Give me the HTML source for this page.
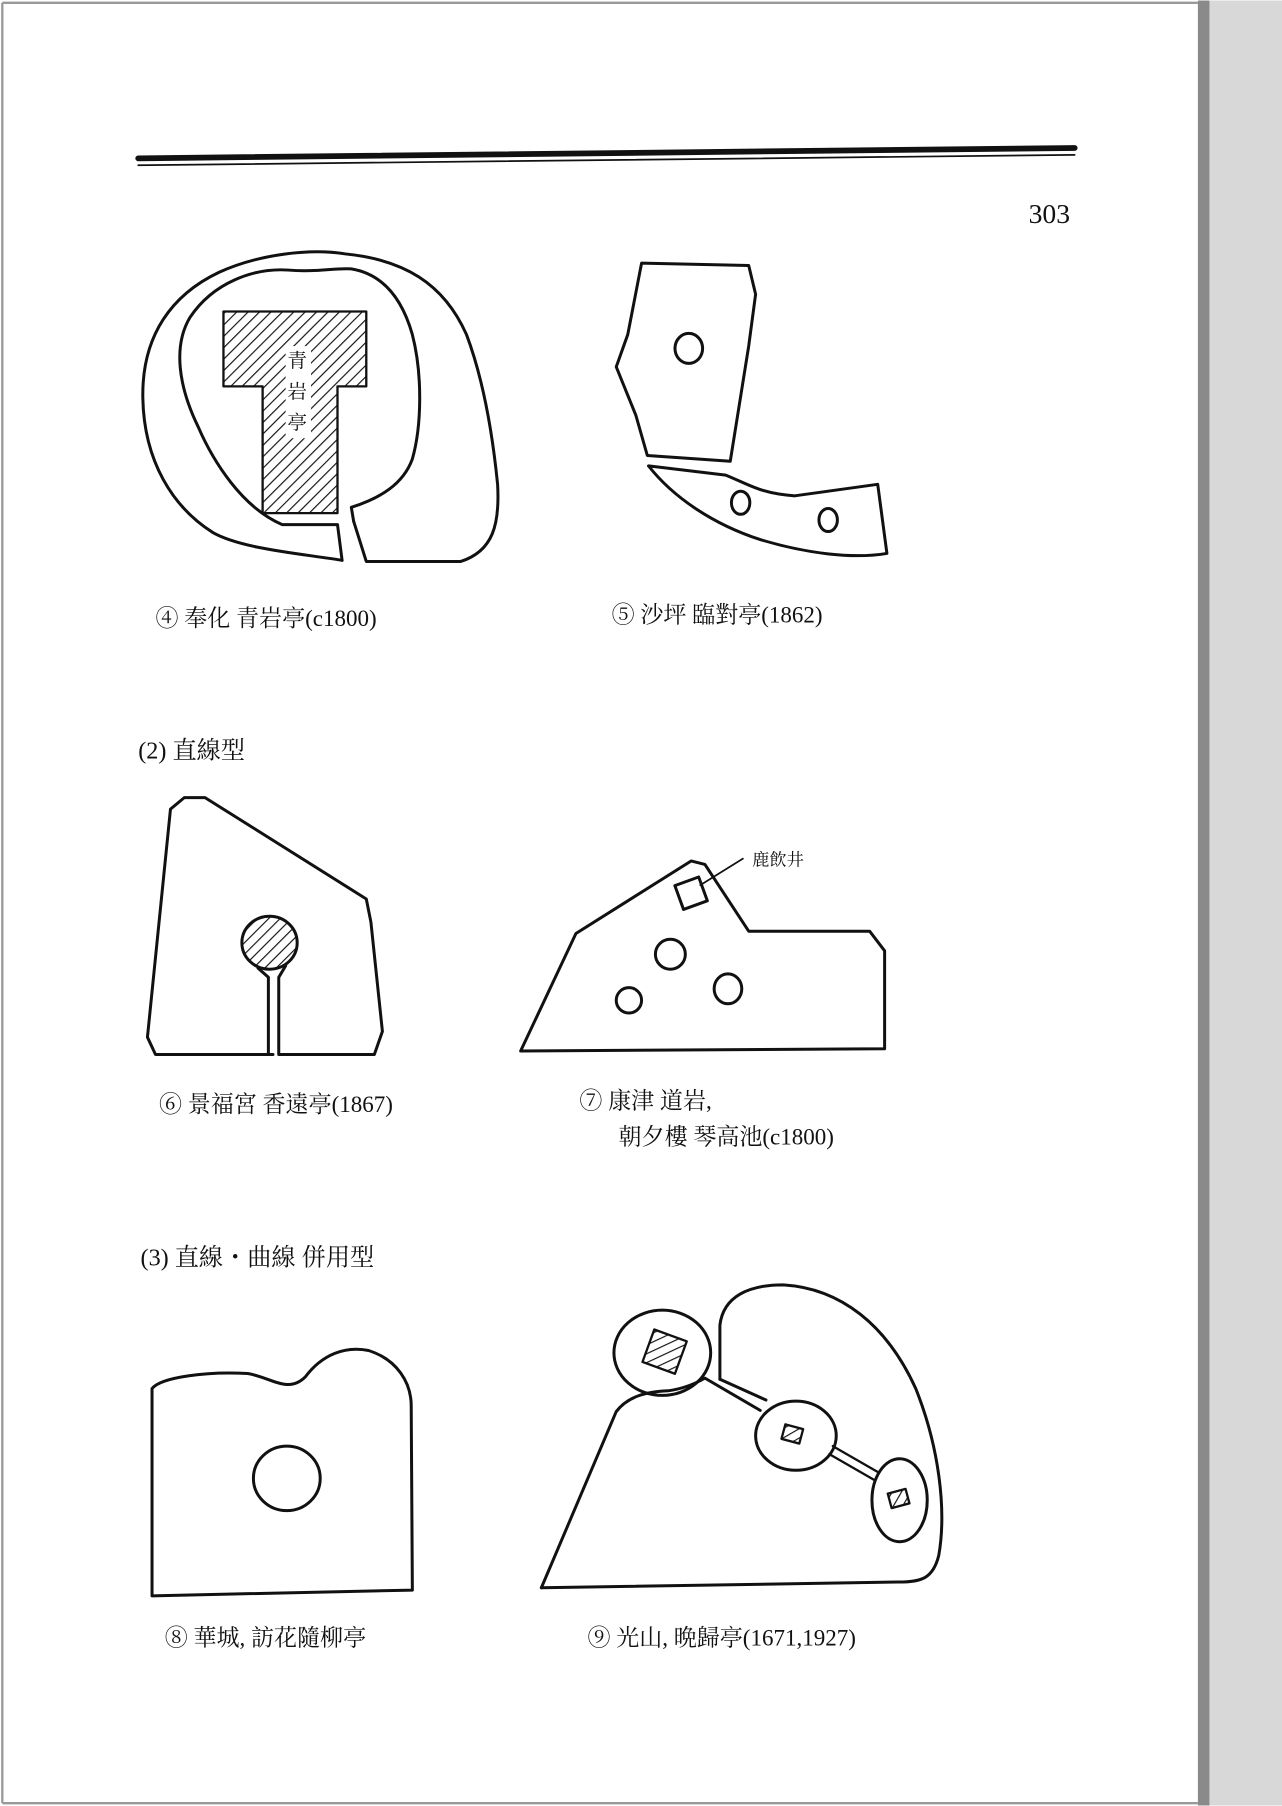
<!DOCTYPE html>
<html><head><meta charset="utf-8"><style>
html,body{margin:0;padding:0;background:#fff;}
svg{display:block}
text{font-family:"Liberation Serif","Noto Serif CJK SC",serif;fill:#111}
</style></head><body>
<svg width="1282" height="1806" viewBox="0 0 1113 1567" xmlns="http://www.w3.org/2000/svg">
<defs>
<pattern id="h" width="7" height="7" patternUnits="userSpaceOnUse" patternTransform="rotate(45)">
<rect width="7" height="7" fill="#fff"/><line x1="0" y1="0" x2="0" y2="7" stroke="#111" stroke-width="2"/>
</pattern>
</defs>
<rect width="1113" height="1567" fill="#fff"/>
<rect x="1040" y="0" width="73" height="1567" fill="#d8d8d8"/>
<rect x="1040" y="0" width="10" height="1567" fill="#8a8a8a"/>
<line x1="2" y1="2" x2="1040" y2="2" stroke="#999" stroke-width="2"/>
<line x1="2" y1="2" x2="2" y2="1565" stroke="#999" stroke-width="2"/>
<line x1="2" y1="1565" x2="1040" y2="1565" stroke="#999" stroke-width="2"/>
<g fill="none" stroke="#111" stroke-width="2.6" stroke-linejoin="round" stroke-linecap="round">
<!-- rule -->
<path d="M120 137 L933 128" stroke-width="5"/>
<path d="M120 143 L933 134" stroke-width="1.5"/>
<!-- fig4 -->
<path d="M297 486 C260 480 210 476 185 462 C150 440 125 400 124 345 C123 290 150 255 190 236 C225 220 270 215 300 220 C350 225 385 245 405 290 C420 330 428 380 432 420 C434 455 428 478 400 487 L318 487 L307 452"/>
<path d="M297 486 L293 455 L245 455 C210 440 185 400 172 370 C155 335 150 300 165 275 C185 245 220 232 250 234 C275 236 290 232 305 233 C335 238 350 262 358 290 C367 325 366 370 358 398 C350 420 330 432 305 440 L307 452"/>
<path d="M194 270 L318 270 L318 335 L293 335 L293 445 L228 445 L228 335 L194 335 Z" fill="url(#h)" stroke-width="2"/>
<rect x="248" y="300" width="22" height="80" fill="#fff" stroke="none"/>
<!-- fig5 -->
<path d="M557 228 L650 230 L656 255 L650 300 L634 400 L562 395 L552 360 L535 318 L545 290 Z"/>
<ellipse cx="598" cy="302" rx="12" ry="13"/>
<path d="M563 404 L630 412 C650 420 660 428 690 430 L762 420 L770 480 C740 485 700 480 660 468 C620 455 585 432 563 404 Z"/>
<ellipse cx="643" cy="436" rx="8" ry="10"/>
<ellipse cx="719" cy="451" rx="8" ry="10"/>
<!-- fig6 -->
<path d="M237 915 L135 915 L128 900 L148 702 L160 692 L178 692 L318 780 L322 800 L332 895 L325 915 L242 915 L242 848 L248 838"/>
<path d="M233 915 L233 848 L224 840"/>
<ellipse cx="234" cy="818" rx="24" ry="23" fill="url(#h)"/>
<!-- fig7 -->
<path d="M452 912 L500 810 L600 747 L612 750 L650 808 L755 808 L768 825 L768 910 Z"/>
<rect x="589" y="764" width="22" height="22" transform="rotate(-20 600 775)"/>
<path d="M608 768 L645 745" stroke-width="1.5"/>
<ellipse cx="582" cy="828" rx="13" ry="13"/>
<ellipse cx="632" cy="858" rx="12" ry="13"/>
<ellipse cx="546" cy="868" rx="11" ry="11"/>
<!-- fig8 -->
<path d="M132 1385 L132 1205 C140 1195 180 1190 215 1192 C235 1195 250 1210 265 1195 C280 1175 300 1168 320 1172 C345 1180 357 1200 357 1220 L358 1380 Z"/>
<ellipse cx="249" cy="1283" rx="29" ry="28"/>
<!-- fig9 -->
<path d="M470 1378 L535 1225 C545 1212 560 1208 580 1207 C595 1205 605 1200 612 1196 L660 1224"/>
<path d="M625 1197 L625 1150 C628 1125 650 1115 680 1115 C730 1118 770 1150 795 1205 C815 1255 822 1310 815 1350 C810 1370 800 1373 780 1373 L470 1378"/>
<path d="M625 1197 L665 1215"/>
<ellipse cx="575" cy="1174" rx="42" ry="37"/>
<ellipse cx="691" cy="1246" rx="35" ry="30"/>
<ellipse cx="781" cy="1302" rx="24" ry="36"/>
<path d="M720 1262 L760 1285 M723 1255 L763 1278" stroke-width="2"/>
<rect x="562" y="1158" width="30" height="30" transform="rotate(20 577 1173)" fill="url(#h)" stroke-width="2"/>
<rect x="680" y="1238" width="16" height="13" transform="rotate(15 688 1244)" fill="url(#h)" stroke-width="2"/>
<rect x="772" y="1294" width="16" height="13" transform="rotate(-15 780 1300)" fill="url(#h)" stroke-width="2"/>
</g>
<text x="258" y="318" font-size="17" text-anchor="middle">青</text>
<text x="258" y="345" font-size="17" text-anchor="middle">岩</text>
<text x="258" y="372" font-size="17" text-anchor="middle">亭</text>
<text x="893" y="193" font-size="24">303</text>
<text x="135" y="543" font-size="20">④ 奉化  青岩亭(c1800)</text>
<text x="531" y="540" font-size="20">⑤ 沙坪  臨對亭(1862)</text>
<text x="120" y="658" font-size="21">(2) 直線型</text>
<text x="653" y="751" font-size="15">鹿飲井</text>
<text x="138" y="965" font-size="20">⑥ 景福宮  香遠亭(1867)</text>
<text x="503" y="962" font-size="20">⑦ 康津    道岩,</text>
<text x="537" y="993" font-size="20">朝夕樓 琴高池(c1800)</text>
<text x="122" y="1098" font-size="21">(3) 直線・曲線  併用型</text>
<text x="143" y="1428" font-size="20">⑧ 華城,  訪花隨柳亭</text>
<text x="510" y="1428" font-size="20">⑨ 光山,  晩歸亭(1671,1927)</text>
</svg>
</body></html>
